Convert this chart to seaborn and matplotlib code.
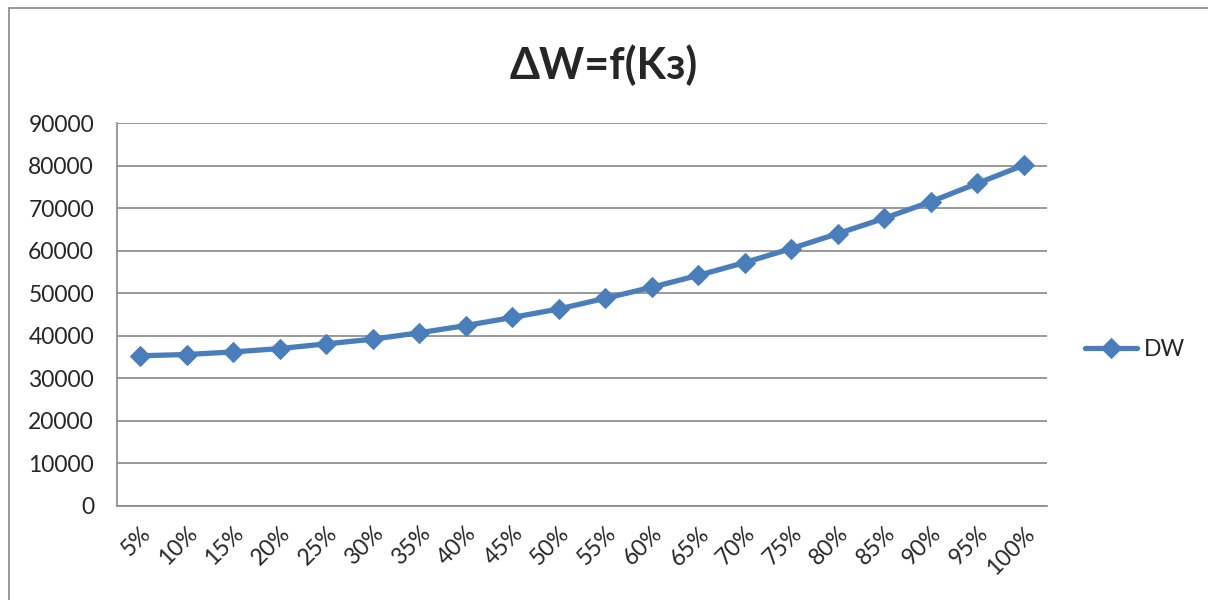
import matplotlib
matplotlib.use("Agg")
import matplotlib.pyplot as plt
import seaborn as sns
import pandas as pd
import numpy as np
from matplotlib.patches import Rectangle

categories = ["5%", "10%", "15%", "20%", "25%", "30%", "35%", "40%", "45%", "50%",
              "55%", "60%", "65%", "70%", "75%", "80%", "85%", "90%", "95%", "100%"]
dw_values = [35300, 35600, 36200, 37000, 38100, 39200, 40700, 42400, 44300, 46300,
             48800, 51400, 54200, 57200, 60500, 64000, 67600, 71500, 75800, 80100]
y_ticks = [0, 10000, 20000, 30000, 40000, 50000, 60000, 70000, 80000, 90000]
title_text = "ΔW=f(Kз)"
series_name = "DW"

sns.set_theme(style="white")
plt.rcParams['font.family'] = ['Lato', 'DejaVu Sans']

df = pd.DataFrame({"cat": categories, "DW": dw_values, "series": series_name})

fig = plt.figure(figsize=(12.08, 6.0), dpi=100)
ax = fig.add_axes([117/1208, 94/600, 930/1208, 383/600])

color = "#4A7EBB"
sns.lineplot(data=df, x="cat", y="DW", hue="series", palette=[color], marker="D",
             markersize=10.5, linewidth=3.8, markeredgecolor=color, sort=False, ax=ax)

n = len(categories)
fs = 16.5
ax.set_xlim(-0.5, n - 0.5)
ax.set_ylim(0, 90000)
ax.set_yticks(y_ticks)
ax.set_yticklabels([str(v) for v in y_ticks], fontsize=fs)
ax.yaxis.grid(True, color="#888888", linewidth=1.2)
ax.xaxis.grid(False)
ax.set_axisbelow(True)

# category boundaries as major ticks, labels at centers as minor ticks
ax.set_xticks(np.arange(-0.5, n, 1.0))
ax.set_xticklabels([])
ax.set_xticks(np.arange(n), minor=True)
ax.set_xticklabels(categories, minor=True, rotation=45, ha="right", rotation_mode="anchor",
                   fontsize=fs)
ax.tick_params(axis="x", which="major", length=5.5, width=1.2, color="#888888", direction="out")
ax.tick_params(axis="x", which="minor", length=0, pad=12)
ax.tick_params(axis="y", length=5.5, width=1.2, color="#888888", direction="out", pad=11)
ax.set_xlabel("")
ax.set_ylabel("")

for s in ["top", "right"]:
    ax.spines[s].set_visible(False)
for s in ["left", "bottom"]:
    ax.spines[s].set_color("#888888")
    ax.spines[s].set_linewidth(1.2)

ax.get_legend().remove()
handles, labels = ax.get_legend_handles_labels()
fig.legend(handles, labels, loc="center left", bbox_to_anchor=(1080/1208, 1 - 350/600),
           frameon=False, fontsize=fs, handlelength=2.3, handletextpad=0.3,
           borderaxespad=0, borderpad=0.2)

fig.text(0.5, 1 - 65/600, title_text, ha="center", va="center", fontsize=31,
         fontweight="bold")

fig.patches.append(Rectangle((9/1208, -0.05), 1.2, 1.05 - 8/600,
                             transform=fig.transFigure, fill=False,
                             edgecolor="#888888", linewidth=1.2))

fig.savefig("out.png", dpi=100, facecolor="white")
